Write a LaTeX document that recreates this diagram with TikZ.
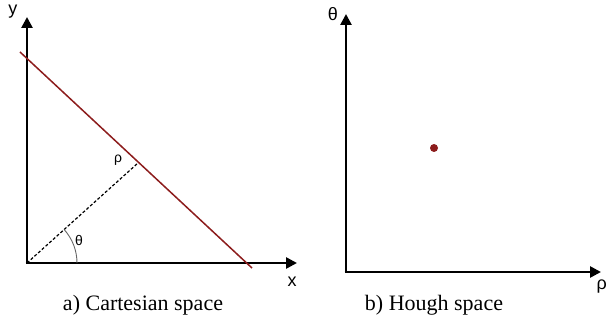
\documentclass[tikz,border=0pt]{standalone}
\usepackage{fontspec}
\setmainfont{Liberation Serif}
\newfontfamily\labelfont{Liberation Sans}
\usetikzlibrary{arrows.meta,calc}
\definecolor{linered}{RGB}{140,28,28}

\begin{document}
\begin{tikzpicture}[
    x=1pt, y=1pt,
    axis/.style={line width=2.6pt, -{Triangle[length=11pt, width=11pt]}},
    hline/.style={draw=linered, line width=1.5pt},
    perp/.style={densely dashed, line width=1.2pt},
    ang/.style={draw=gray!80!black, line width=0.9pt},
    axlbl/.style={font=\labelfont\fontsize{18}{18}\selectfont, inner sep=0pt},
    symlbl/.style={font=\labelfont\fontsize{14}{14}\selectfont, inner sep=0pt},
    captxt/.style={font=\fontsize{22}{22}\selectfont, inner sep=0pt}
]
\useasboundingbox (0,0) rectangle (608,327);

% a) Cartesian space
\coordinate (O1) at (27,64);
\coordinate (Ytip) at (27,310);
\coordinate (Xtip) at (297,64);
\coordinate (A) at (20,275);
\coordinate (B) at (252,59);
\coordinate (F) at (138,164);
\draw[axis] (O1) -- (Ytip);
\draw[axis] ([xshift=-1.3pt]O1) -- (Xtip);
\draw[hline] (A) -- (B);
\draw[perp] (O1) -- (F);
\draw[ang] ([shift={(0:50)}]O1) arc[start angle=0, end angle=42, radius=50];
\node[axlbl] (ylab) at (13,315) {y};
\node[axlbl] (xlab) at (292,45) {x};
\node[symlbl] (rholab) at (118,167) {ρ};
\node[symlbl] (thlab) at (79,87) {θ};
\node[captxt] (capA) at (143,22) {a) Cartesian space};

% b) Hough space
\coordinate (O2) at (346,55);
\coordinate (Ttip) at (346,313);
\coordinate (Rtip) at (601,55);
\draw[axis] (O2) -- (Ttip);
\draw[axis] ([xshift=-1.3pt]O2) -- (Rtip);
\node[circle, fill=linered, inner sep=0pt, minimum size=8pt] (pt) at (434,179) {};
\node[axlbl] (thaxis) at (333,313) {θ};
\node[axlbl, anchor=east] (rhoaxis) at (607,40) {ρ};
\node[captxt] (capB) at (434,22) {b) Hough space};
\end{tikzpicture}
\end{document}
